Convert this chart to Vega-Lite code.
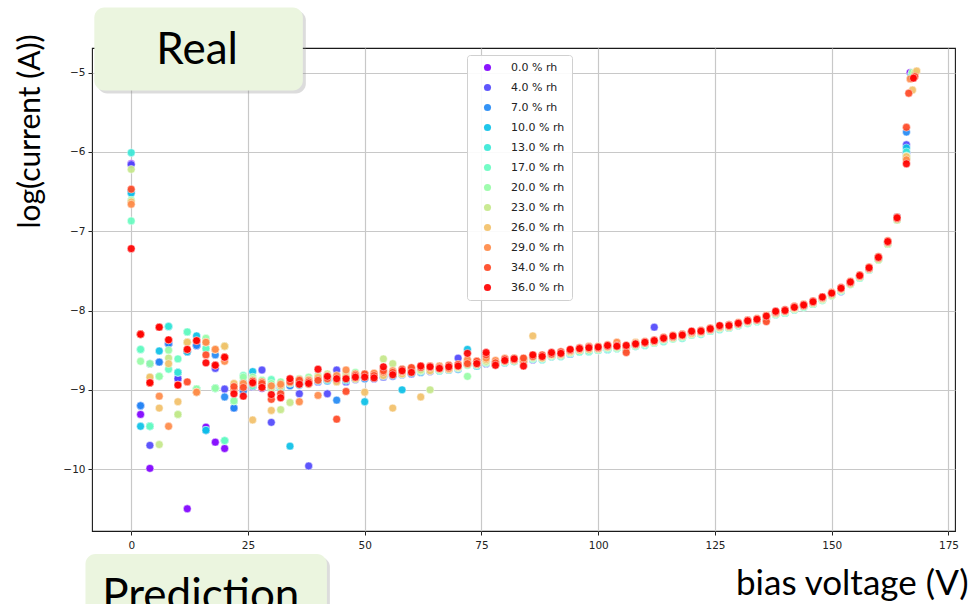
{
"$schema": "https://vega.github.io/schema/vega-lite/v6.json",
"autosize": {"type": "none"},
"width": 863,
"height": 483,
"padding": {"left": 92, "top": 48, "right": 16, "bottom": 73},
"background": "white",
"config": {
 "view": {"stroke": "#1a1a1a", "strokeWidth": 1.1},
 "axis": {"grid": true, "gridColor": "#c8c8c8", "gridWidth": 1.2, "domain": false, "tickColor": "#222", "tickSize": 4, "tickWidth": 1, "labelFont": "DejaVu Sans", "labelFontSize": 10.5, "labelColor": "#222", "titleFont": "Lato", "titleFontSize": 30, "titleFontWeight": "normal", "titleColor": "#000"},
 "legend": {"orient": "none", "legendX": 375, "legendY": 7, "fillColor": "rgba(255,255,255,0.9)", "strokeColor": "#d0d0d0", "cornerRadius": 3, "padding": 7, "symbolType": "circle", "symbolSize": 50, "symbolOffset": 8, "symbolStrokeWidth": 0, "labelFont": "DejaVu Sans", "labelFontSize": 11, "labelColor": "#222", "labelOffset": 18, "rowPadding": 8}
},
"datasets": {
"notes": [
 {"label": "Real", "x0": -7.9, "x1": 36.75, "y0": -4.18, "y1": -5.226, "xc": 14.1, "yb": -4.887},
 {"label": "Prediction", "x0": -9.8, "x1": 41.9, "y0": -11.07, "y1": -12.0, "xc": 14.9, "yb": -11.77}
],
"pts": [
{"v":0,"rh":0,"c":-6.15},{"v":2,"rh":0,"c":-9.31},{"v":4,"rh":0,"c":-9.99},{"v":6,"rh":0,"c":-8.65},{"v":8,"rh":0,"c":-8.42},{"v":10,"rh":0,"c":-8.86},{"v":12,"rh":0,"c":-10.5},{"v":14,"rh":0,"c":-8.44},{"v":16,"rh":0,"c":-9.47},{"v":18,"rh":0,"c":-9.66},{"v":20,"rh":0,"c":-9.74},{"v":22,"rh":0,"c":-9.23},{"v":24,"rh":0,"c":-8.98},
{"v":26,"rh":0,"c":-8.95},{"v":28,"rh":0,"c":-8.98},{"v":30,"rh":0,"c":-8.97},{"v":32,"rh":0,"c":-8.98},{"v":34,"rh":0,"c":-8.94},{"v":36,"rh":0,"c":-8.93},{"v":38,"rh":0,"c":-8.92},{"v":40,"rh":0,"c":-8.89},{"v":42,"rh":0,"c":-8.88},{"v":44,"rh":0,"c":-8.87},{"v":46,"rh":0,"c":-8.87},{"v":48,"rh":0,"c":-8.86},{"v":50,"rh":0,"c":-8.84},{"v":52,"rh":0,"c":-8.84},{"v":54,"rh":0,"c":-8.82},{"v":56,"rh":0,"c":-8.81},{"v":58,"rh":0,"c":-8.79},{"v":60,"rh":0,"c":-8.78},{"v":62,"rh":0,"c":-8.76},{"v":64,"rh":0,"c":-8.75},{"v":66,"rh":0,"c":-8.74},{"v":68,"rh":0,"c":-8.73},{"v":70,"rh":0,"c":-8.72},{"v":72,"rh":0,"c":-8.67},{"v":74,"rh":0,"c":-8.68},{"v":76,"rh":0,"c":-8.65},{"v":78,"rh":0,"c":-8.66},{"v":80,"rh":0,"c":-8.64},{"v":82,"rh":0,"c":-8.62},{"v":84,"rh":0,"c":-8.63},{"v":86,"rh":0,"c":-8.59},{"v":88,"rh":0,"c":-8.59},{"v":90,"rh":0,"c":-8.56},{"v":92,"rh":0,"c":-8.55},{"v":94,"rh":0,"c":-8.52},{"v":96,"rh":0,"c":-8.5},{"v":98,"rh":0,"c":-8.49},{"v":100,"rh":0,"c":-8.48},{"v":102,"rh":0,"c":-8.46},{"v":104,"rh":0,"c":-8.46},{"v":106,"rh":0,"c":-8.46},{"v":108,"rh":0,"c":-8.43},{"v":110,"rh":0,"c":-8.41},{"v":112,"rh":0,"c":-8.39},{"v":114,"rh":0,"c":-8.36},{"v":116,"rh":0,"c":-8.34},{"v":118,"rh":0,"c":-8.32},{"v":120,"rh":0,"c":-8.29},{"v":122,"rh":0,"c":-8.27},{"v":124,"rh":0,"c":-8.24},{"v":126,"rh":0,"c":-8.21},{"v":128,"rh":0,"c":-8.2},{"v":130,"rh":0,"c":-8.17},{"v":132,"rh":0,"c":-8.14},{"v":134,"rh":0,"c":-8.12},{"v":136,"rh":0,"c":-8.08},{"v":138,"rh":0,"c":-8.03},{"v":140,"rh":0,"c":-8.01},{"v":142,"rh":0,"c":-7.97},{"v":144,"rh":0,"c":-7.94},{"v":146,"rh":0,"c":-7.9},{"v":148,"rh":0,"c":-7.85},{"v":150,"rh":0,"c":-7.79},{"v":152,"rh":0,"c":-7.73},{"v":154,"rh":0,"c":-7.65},{"v":156,"rh":0,"c":-7.57},{"v":158,"rh":0,"c":-7.47},{"v":160,"rh":0,"c":-7.34},{"v":162,"rh":0,"c":-7.14},{"v":164,"rh":0,"c":-6.82},{"v":166,"rh":0,"c":-6.01},{"v":166.8,"rh":0,"c":-5.0},
{"v":0,"rh":4,"c":-6.16},{"v":2,"rh":4,"c":-9.2},{"v":4,"rh":4,"c":-9.7},{"v":6,"rh":4,"c":-8.65},{"v":8,"rh":4,"c":-8.42},{"v":10,"rh":4,"c":-8.86},{"v":12,"rh":4,"c":-8.52},{"v":14,"rh":4,"c":-8.44},{"v":16,"rh":4,"c":-9.51},{"v":18,"rh":4,"c":-8.73},{"v":20,"rh":4,"c":-8.99},{"v":22,"rh":4,"c":-9.23},{"v":24,"rh":4,"c":-9.0},
{"v":26,"rh":4,"c":-8.96},{"v":28,"rh":4,"c":-8.75},{"v":30,"rh":4,"c":-9.41},{"v":32,"rh":4,"c":-8.96},{"v":34,"rh":4,"c":-8.94},{"v":36,"rh":4,"c":-9.05},{"v":38,"rh":4,"c":-9.96},{"v":40,"rh":4,"c":-8.9},{"v":42,"rh":4,"c":-9.05},{"v":44,"rh":4,"c":-8.75},{"v":46,"rh":4,"c":-8.9},{"v":48,"rh":4,"c":-8.87},{"v":50,"rh":4,"c":-8.85},{"v":52,"rh":4,"c":-8.86},{"v":54,"rh":4,"c":-8.84},{"v":56,"rh":4,"c":-8.83},{"v":58,"rh":4,"c":-8.8},{"v":60,"rh":4,"c":-8.8},{"v":62,"rh":4,"c":-8.76},{"v":64,"rh":4,"c":-8.77},{"v":66,"rh":4,"c":-8.74},{"v":68,"rh":4,"c":-8.75},{"v":70,"rh":4,"c":-8.6},{"v":72,"rh":4,"c":-8.68},{"v":74,"rh":4,"c":-8.69},{"v":76,"rh":4,"c":-8.67},{"v":78,"rh":4,"c":-8.66},{"v":80,"rh":4,"c":-8.66},{"v":82,"rh":4,"c":-8.62},{"v":84,"rh":4,"c":-8.63},{"v":86,"rh":4,"c":-8.62},{"v":88,"rh":4,"c":-8.59},{"v":90,"rh":4,"c":-8.57},{"v":92,"rh":4,"c":-8.57},{"v":94,"rh":4,"c":-8.53},{"v":96,"rh":4,"c":-8.51},{"v":98,"rh":4,"c":-8.5},{"v":100,"rh":4,"c":-8.49},{"v":102,"rh":4,"c":-8.47},{"v":104,"rh":4,"c":-8.47},{"v":106,"rh":4,"c":-8.46},{"v":108,"rh":4,"c":-8.44},{"v":110,"rh":4,"c":-8.42},{"v":112,"rh":4,"c":-8.21},{"v":114,"rh":4,"c":-8.37},{"v":116,"rh":4,"c":-8.35},{"v":118,"rh":4,"c":-8.33},{"v":120,"rh":4,"c":-8.3},{"v":122,"rh":4,"c":-8.28},{"v":124,"rh":4,"c":-8.25},{"v":126,"rh":4,"c":-8.22},{"v":128,"rh":4,"c":-8.21},{"v":130,"rh":4,"c":-8.17},{"v":132,"rh":4,"c":-8.15},{"v":134,"rh":4,"c":-8.12},{"v":136,"rh":4,"c":-8.09},{"v":138,"rh":4,"c":-8.03},{"v":140,"rh":4,"c":-8.02},{"v":142,"rh":4,"c":-7.97},{"v":144,"rh":4,"c":-7.95},{"v":146,"rh":4,"c":-7.9},{"v":148,"rh":4,"c":-7.86},{"v":150,"rh":4,"c":-7.79},{"v":152,"rh":4,"c":-7.76},{"v":154,"rh":4,"c":-7.66},{"v":156,"rh":4,"c":-7.57},{"v":158,"rh":4,"c":-7.47},{"v":160,"rh":4,"c":-7.34},{"v":162,"rh":4,"c":-7.14},{"v":164,"rh":4,"c":-6.82},{"v":166,"rh":4,"c":-5.91},{"v":167,"rh":4,"c":-5.03},
{"v":0,"rh":7,"c":-6.5},{"v":2,"rh":7,"c":-9.2},{"v":4,"rh":7,"c":-8.67},{"v":6,"rh":7,"c":-8.65},{"v":8,"rh":7,"c":-8.42},{"v":10,"rh":7,"c":-8.78},{"v":12,"rh":7,"c":-8.52},{"v":14,"rh":7,"c":-8.44},{"v":16,"rh":7,"c":-9.51},{"v":18,"rh":7,"c":-8.56},{"v":20,"rh":7,"c":-9.09},{"v":22,"rh":7,"c":-9.23},{"v":24,"rh":7,"c":-9.02},
{"v":26,"rh":7,"c":-8.94},{"v":28,"rh":7,"c":-8.97},{"v":30,"rh":7,"c":-8.95},{"v":32,"rh":7,"c":-8.98},{"v":34,"rh":7,"c":-8.95},{"v":36,"rh":7,"c":-8.9},{"v":38,"rh":7,"c":-8.92},{"v":40,"rh":7,"c":-8.86},{"v":42,"rh":7,"c":-8.89},{"v":44,"rh":7,"c":-9.13},{"v":46,"rh":7,"c":-8.88},{"v":48,"rh":7,"c":-8.86},{"v":50,"rh":7,"c":-8.86},{"v":52,"rh":7,"c":-8.83},{"v":54,"rh":7,"c":-8.83},{"v":56,"rh":7,"c":-8.8},{"v":58,"rh":7,"c":-8.81},{"v":60,"rh":7,"c":-8.77},{"v":62,"rh":7,"c":-8.78},{"v":64,"rh":7,"c":-8.74},{"v":66,"rh":7,"c":-8.76},{"v":68,"rh":7,"c":-8.72},{"v":70,"rh":7,"c":-8.74},{"v":72,"rh":7,"c":-8.67},{"v":74,"rh":7,"c":-8.7},{"v":76,"rh":7,"c":-8.64},{"v":78,"rh":7,"c":-8.68},{"v":80,"rh":7,"c":-8.63},{"v":82,"rh":7,"c":-8.64},{"v":84,"rh":7,"c":-8.62},{"v":86,"rh":7,"c":-8.6},{"v":88,"rh":7,"c":-8.58},{"v":90,"rh":7,"c":-8.58},{"v":92,"rh":7,"c":-8.55},{"v":94,"rh":7,"c":-8.55},{"v":96,"rh":7,"c":-8.5},{"v":98,"rh":7,"c":-8.51},{"v":100,"rh":7,"c":-8.48},{"v":102,"rh":7,"c":-8.49},{"v":104,"rh":7,"c":-8.46},{"v":106,"rh":7,"c":-8.48},{"v":108,"rh":7,"c":-8.43},{"v":110,"rh":7,"c":-8.43},{"v":112,"rh":7,"c":-8.39},{"v":114,"rh":7,"c":-8.38},{"v":116,"rh":7,"c":-8.34},{"v":118,"rh":7,"c":-8.34},{"v":120,"rh":7,"c":-8.29},{"v":122,"rh":7,"c":-8.29},{"v":124,"rh":7,"c":-8.24},{"v":126,"rh":7,"c":-8.23},{"v":128,"rh":7,"c":-8.2},{"v":130,"rh":7,"c":-8.18},{"v":132,"rh":7,"c":-8.14},{"v":134,"rh":7,"c":-8.13},{"v":136,"rh":7,"c":-8.09},{"v":138,"rh":7,"c":-8.04},{"v":140,"rh":7,"c":-8.02},{"v":142,"rh":7,"c":-7.98},{"v":144,"rh":7,"c":-7.95},{"v":146,"rh":7,"c":-7.9},{"v":148,"rh":7,"c":-7.86},{"v":150,"rh":7,"c":-7.8},{"v":152,"rh":7,"c":-7.74},{"v":154,"rh":7,"c":-7.66},{"v":156,"rh":7,"c":-7.58},{"v":158,"rh":7,"c":-7.48},{"v":160,"rh":7,"c":-7.35},{"v":162,"rh":7,"c":-7.15},{"v":164,"rh":7,"c":-6.84},{"v":166,"rh":7,"c":-5.75},{"v":167.2,"rh":7,"c":-5.02},
{"v":0,"rh":10,"c":-6.52},{"v":2,"rh":10,"c":-9.46},{"v":4,"rh":10,"c":-9.46},{"v":6,"rh":10,"c":-8.51},{"v":8,"rh":10,"c":-8.2},{"v":10,"rh":10,"c":-8.78},{"v":12,"rh":10,"c":-8.52},{"v":14,"rh":10,"c":-8.32},{"v":16,"rh":10,"c":-9.51},{"v":18,"rh":10,"c":-8.98},{"v":20,"rh":10,"c":-9.64},{"v":22,"rh":10,"c":-9.14},{"v":24,"rh":10,"c":-8.95},
{"v":26,"rh":10,"c":-8.77},{"v":28,"rh":10,"c":-8.93},{"v":30,"rh":10,"c":-8.99},{"v":32,"rh":10,"c":-8.94},{"v":34,"rh":10,"c":-9.71},{"v":36,"rh":10,"c":-8.94},{"v":38,"rh":10,"c":-8.89},{"v":40,"rh":10,"c":-8.89},{"v":42,"rh":10,"c":-8.88},{"v":44,"rh":10,"c":-8.88},{"v":46,"rh":10,"c":-8.88},{"v":48,"rh":10,"c":-8.86},{"v":50,"rh":10,"c":-9.15},{"v":52,"rh":10,"c":-8.85},{"v":54,"rh":10,"c":-8.82},{"v":56,"rh":10,"c":-8.82},{"v":58,"rh":10,"c":-9.0},{"v":60,"rh":10,"c":-8.79},{"v":62,"rh":10,"c":-8.77},{"v":64,"rh":10,"c":-8.76},{"v":66,"rh":10,"c":-8.75},{"v":68,"rh":10,"c":-8.73},{"v":70,"rh":10,"c":-8.72},{"v":72,"rh":10,"c":-8.49},{"v":74,"rh":10,"c":-8.7},{"v":76,"rh":10,"c":-8.66},{"v":78,"rh":10,"c":-8.67},{"v":80,"rh":10,"c":-8.65},{"v":82,"rh":10,"c":-8.64},{"v":84,"rh":10,"c":-8.63},{"v":86,"rh":10,"c":-8.61},{"v":88,"rh":10,"c":-8.6},{"v":90,"rh":10,"c":-8.58},{"v":92,"rh":10,"c":-8.56},{"v":94,"rh":10,"c":-8.54},{"v":96,"rh":10,"c":-8.52},{"v":98,"rh":10,"c":-8.5},{"v":100,"rh":10,"c":-8.5},{"v":102,"rh":10,"c":-8.48},{"v":104,"rh":10,"c":-8.48},{"v":106,"rh":10,"c":-8.47},{"v":108,"rh":10,"c":-8.45},{"v":110,"rh":10,"c":-8.43},{"v":112,"rh":10,"c":-8.41},{"v":114,"rh":10,"c":-8.38},{"v":116,"rh":10,"c":-8.35},{"v":118,"rh":10,"c":-8.34},{"v":120,"rh":10,"c":-8.31},{"v":122,"rh":10,"c":-8.29},{"v":124,"rh":10,"c":-8.26},{"v":126,"rh":10,"c":-8.23},{"v":128,"rh":10,"c":-8.22},{"v":130,"rh":10,"c":-8.19},{"v":132,"rh":10,"c":-8.15},{"v":134,"rh":10,"c":-8.14},{"v":136,"rh":10,"c":-8.1},{"v":138,"rh":10,"c":-8.05},{"v":140,"rh":10,"c":-8.03},{"v":142,"rh":10,"c":-7.99},{"v":144,"rh":10,"c":-7.95},{"v":146,"rh":10,"c":-7.92},{"v":148,"rh":10,"c":-7.86},{"v":150,"rh":10,"c":-7.81},{"v":152,"rh":10,"c":-7.75},{"v":154,"rh":10,"c":-7.67},{"v":156,"rh":10,"c":-7.58},{"v":158,"rh":10,"c":-7.49},{"v":160,"rh":10,"c":-7.35},{"v":162,"rh":10,"c":-7.16},{"v":164,"rh":10,"c":-6.85},{"v":166,"rh":10,"c":-5.95},{"v":167,"rh":10,"c":-5.05},
{"v":0,"rh":13,"c":-6.01},{"v":2,"rh":13,"c":-8.49},{"v":4,"rh":13,"c":-9.46},{"v":6,"rh":13,"c":-8.83},{"v":8,"rh":13,"c":-8.2},{"v":10,"rh":13,"c":-8.78},{"v":12,"rh":13,"c":-8.27},{"v":14,"rh":13,"c":-8.99},{"v":16,"rh":13,"c":-8.48},{"v":18,"rh":13,"c":-8.98},{"v":20,"rh":13,"c":-9.64},{"v":22,"rh":13,"c":-9.14},{"v":24,"rh":13,"c":-8.9},
{"v":26,"rh":13,"c":-8.9},{"v":28,"rh":13,"c":-8.94},{"v":30,"rh":13,"c":-8.96},{"v":32,"rh":13,"c":-8.99},{"v":34,"rh":13,"c":-8.91},{"v":36,"rh":13,"c":-8.93},{"v":38,"rh":13,"c":-8.91},{"v":40,"rh":13,"c":-8.88},{"v":42,"rh":13,"c":-8.84},{"v":44,"rh":13,"c":-8.87},{"v":46,"rh":13,"c":-8.85},{"v":48,"rh":13,"c":-8.85},{"v":50,"rh":13,"c":-8.81},{"v":52,"rh":13,"c":-8.84},{"v":54,"rh":13,"c":-8.79},{"v":56,"rh":13,"c":-8.81},{"v":58,"rh":13,"c":-8.77},{"v":60,"rh":13,"c":-8.78},{"v":62,"rh":13,"c":-8.76},{"v":64,"rh":13,"c":-8.74},{"v":66,"rh":13,"c":-8.76},{"v":68,"rh":13,"c":-8.75},{"v":70,"rh":13,"c":-8.73},{"v":72,"rh":13,"c":-8.66},{"v":74,"rh":13,"c":-8.69},{"v":76,"rh":13,"c":-8.64},{"v":78,"rh":13,"c":-8.67},{"v":80,"rh":13,"c":-8.66},{"v":82,"rh":13,"c":-8.63},{"v":84,"rh":13,"c":-8.65},{"v":86,"rh":13,"c":-8.6},{"v":88,"rh":13,"c":-8.62},{"v":90,"rh":13,"c":-8.57},{"v":92,"rh":13,"c":-8.58},{"v":94,"rh":13,"c":-8.53},{"v":96,"rh":13,"c":-8.51},{"v":98,"rh":13,"c":-8.52},{"v":100,"rh":13,"c":-8.49},{"v":102,"rh":13,"c":-8.49},{"v":104,"rh":13,"c":-8.47},{"v":106,"rh":13,"c":-8.49},{"v":108,"rh":13,"c":-8.44},{"v":110,"rh":13,"c":-8.44},{"v":112,"rh":13,"c":-8.4},{"v":114,"rh":13,"c":-8.39},{"v":116,"rh":13,"c":-8.35},{"v":118,"rh":13,"c":-8.35},{"v":120,"rh":13,"c":-8.3},{"v":122,"rh":13,"c":-8.3},{"v":124,"rh":13,"c":-8.25},{"v":126,"rh":13,"c":-8.24},{"v":128,"rh":13,"c":-8.21},{"v":130,"rh":13,"c":-8.18},{"v":132,"rh":13,"c":-8.16},{"v":134,"rh":13,"c":-8.13},{"v":136,"rh":13,"c":-8.1},{"v":138,"rh":13,"c":-8.04},{"v":140,"rh":13,"c":-8.03},{"v":142,"rh":13,"c":-7.98},{"v":144,"rh":13,"c":-7.96},{"v":146,"rh":13,"c":-7.91},{"v":148,"rh":13,"c":-7.87},{"v":150,"rh":13,"c":-7.8},{"v":152,"rh":13,"c":-7.75},{"v":154,"rh":13,"c":-7.66},{"v":156,"rh":13,"c":-7.59},{"v":158,"rh":13,"c":-7.48},{"v":160,"rh":13,"c":-7.36},{"v":162,"rh":13,"c":-7.15},{"v":164,"rh":13,"c":-6.86},{"v":166,"rh":13,"c":-6.0},{"v":167.4,"rh":13,"c":-5.06},
{"v":0,"rh":17,"c":-6.87},{"v":2,"rh":17,"c":-8.49},{"v":4,"rh":17,"c":-9.46},{"v":6,"rh":17,"c":-8.83},{"v":8,"rh":17,"c":-8.74},{"v":10,"rh":17,"c":-8.61},{"v":12,"rh":17,"c":-8.27},{"v":14,"rh":17,"c":-8.99},{"v":16,"rh":17,"c":-8.48},{"v":18,"rh":17,"c":-8.98},{"v":20,"rh":17,"c":-9.64},{"v":22,"rh":17,"c":-9.14},{"v":24,"rh":17,"c":-8.82},
{"v":26,"rh":17,"c":-8.95},{"v":28,"rh":17,"c":-8.93},{"v":30,"rh":17,"c":-8.87},{"v":32,"rh":17,"c":-8.96},{"v":34,"rh":17,"c":-8.92},{"v":36,"rh":17,"c":-8.91},{"v":38,"rh":17,"c":-8.88},{"v":40,"rh":17,"c":-8.86},{"v":42,"rh":17,"c":-8.87},{"v":44,"rh":17,"c":-8.85},{"v":46,"rh":17,"c":-8.87},{"v":48,"rh":17,"c":-8.83},{"v":50,"rh":17,"c":-8.84},{"v":52,"rh":17,"c":-8.82},{"v":54,"rh":17,"c":-8.81},{"v":56,"rh":17,"c":-8.79},{"v":58,"rh":17,"c":-8.8},{"v":60,"rh":17,"c":-8.77},{"v":62,"rh":17,"c":-8.75},{"v":64,"rh":17,"c":-8.75},{"v":66,"rh":17,"c":-8.74},{"v":68,"rh":17,"c":-8.74},{"v":70,"rh":17,"c":-8.71},{"v":72,"rh":17,"c":-8.69},{"v":74,"rh":17,"c":-8.68},{"v":76,"rh":17,"c":-8.66},{"v":78,"rh":17,"c":-8.68},{"v":80,"rh":17,"c":-8.65},{"v":82,"rh":17,"c":-8.64},{"v":84,"rh":17,"c":-8.64},{"v":86,"rh":17,"c":-8.61},{"v":88,"rh":17,"c":-8.61},{"v":90,"rh":17,"c":-8.58},{"v":92,"rh":17,"c":-8.57},{"v":94,"rh":17,"c":-8.54},{"v":96,"rh":17,"c":-8.52},{"v":98,"rh":17,"c":-8.51},{"v":100,"rh":17,"c":-8.5},{"v":102,"rh":17,"c":-8.48},{"v":104,"rh":17,"c":-8.48},{"v":106,"rh":17,"c":-8.48},{"v":108,"rh":17,"c":-8.45},{"v":110,"rh":17,"c":-8.43},{"v":112,"rh":17,"c":-8.41},{"v":114,"rh":17,"c":-8.38},{"v":116,"rh":17,"c":-8.36},{"v":118,"rh":17,"c":-8.34},{"v":120,"rh":17,"c":-8.31},{"v":122,"rh":17,"c":-8.29},{"v":124,"rh":17,"c":-8.26},{"v":126,"rh":17,"c":-8.23},{"v":128,"rh":17,"c":-8.22},{"v":130,"rh":17,"c":-8.19},{"v":132,"rh":17,"c":-8.16},{"v":134,"rh":17,"c":-8.14},{"v":136,"rh":17,"c":-8.1},{"v":138,"rh":17,"c":-8.05},{"v":140,"rh":17,"c":-8.03},{"v":142,"rh":17,"c":-7.99},{"v":144,"rh":17,"c":-7.96},{"v":146,"rh":17,"c":-7.92},{"v":148,"rh":17,"c":-7.87},{"v":150,"rh":17,"c":-7.81},{"v":152,"rh":17,"c":-7.75},{"v":154,"rh":17,"c":-7.67},{"v":156,"rh":17,"c":-7.59},{"v":158,"rh":17,"c":-7.49},{"v":160,"rh":17,"c":-7.36},{"v":162,"rh":17,"c":-7.16},{"v":164,"rh":17,"c":-6.86},{"v":166,"rh":17,"c":-6.05},{"v":167.6,"rh":17,"c":-5.03},
{"v":0,"rh":20,"c":-6.61},{"v":2,"rh":20,"c":-8.64},{"v":4,"rh":20,"c":-8.67},{"v":6,"rh":20,"c":-8.83},{"v":8,"rh":20,"c":-8.5},{"v":10,"rh":20,"c":-9.31},{"v":12,"rh":20,"c":-8.4},{"v":14,"rh":20,"c":-8.99},{"v":16,"rh":20,"c":-8.35},{"v":18,"rh":20,"c":-8.98},{"v":20,"rh":20,"c":-8.45},{"v":22,"rh":20,"c":-9.14},{"v":24,"rh":20,"c":-8.84},
{"v":26,"rh":20,"c":-8.84},{"v":28,"rh":20,"c":-8.88},{"v":30,"rh":20,"c":-8.92},{"v":32,"rh":20,"c":-8.9},{"v":34,"rh":20,"c":-8.89},{"v":36,"rh":20,"c":-8.86},{"v":38,"rh":20,"c":-8.84},{"v":40,"rh":20,"c":-8.82},{"v":42,"rh":20,"c":-8.85},{"v":44,"rh":20,"c":-8.83},{"v":46,"rh":20,"c":-8.8},{"v":48,"rh":20,"c":-8.78},{"v":50,"rh":20,"c":-8.82},{"v":52,"rh":20,"c":-8.81},{"v":54,"rh":20,"c":-8.75},{"v":56,"rh":20,"c":-8.77},{"v":58,"rh":20,"c":-8.74},{"v":60,"rh":20,"c":-8.73},{"v":62,"rh":20,"c":-8.76},{"v":64,"rh":20,"c":-8.74},{"v":66,"rh":20,"c":-8.75},{"v":68,"rh":20,"c":-8.7},{"v":70,"rh":20,"c":-8.72},{"v":72,"rh":20,"c":-8.83},{"v":74,"rh":20,"c":-8.67},{"v":76,"rh":20,"c":-8.65},{"v":78,"rh":20,"c":-8.66},{"v":80,"rh":20,"c":-8.64},{"v":82,"rh":20,"c":-8.62},{"v":84,"rh":20,"c":-8.61},{"v":86,"rh":20,"c":-8.6},{"v":88,"rh":20,"c":-8.6},{"v":90,"rh":20,"c":-8.57},{"v":92,"rh":20,"c":-8.55},{"v":94,"rh":20,"c":-8.53},{"v":96,"rh":20,"c":-8.5},{"v":98,"rh":20,"c":-8.49},{"v":100,"rh":20,"c":-8.49},{"v":102,"rh":20,"c":-8.47},{"v":104,"rh":20,"c":-8.47},{"v":106,"rh":20,"c":-8.46},{"v":108,"rh":20,"c":-8.44},{"v":110,"rh":20,"c":-8.42},{"v":112,"rh":20,"c":-8.4},{"v":114,"rh":20,"c":-8.37},{"v":116,"rh":20,"c":-8.35},{"v":118,"rh":20,"c":-8.33},{"v":120,"rh":20,"c":-8.3},{"v":122,"rh":20,"c":-8.28},{"v":124,"rh":20,"c":-8.25},{"v":126,"rh":20,"c":-8.22},{"v":128,"rh":20,"c":-8.21},{"v":130,"rh":20,"c":-8.18},{"v":132,"rh":20,"c":-8.15},{"v":134,"rh":20,"c":-8.13},{"v":136,"rh":20,"c":-8.09},{"v":138,"rh":20,"c":-8.04},{"v":140,"rh":20,"c":-8.02},{"v":142,"rh":20,"c":-7.98},{"v":144,"rh":20,"c":-7.95},{"v":146,"rh":20,"c":-7.91},{"v":148,"rh":20,"c":-7.86},{"v":150,"rh":20,"c":-7.8},{"v":152,"rh":20,"c":-7.74},{"v":154,"rh":20,"c":-7.66},{"v":156,"rh":20,"c":-7.58},{"v":158,"rh":20,"c":-7.48},{"v":160,"rh":20,"c":-7.35},{"v":162,"rh":20,"c":-7.15},{"v":164,"rh":20,"c":-6.85},{"v":166,"rh":20,"c":-6.08},{"v":167.2,"rh":20,"c":-5.0},
{"v":0,"rh":23,"c":-6.22},{"v":2,"rh":23,"c":-8.3},{"v":4,"rh":23,"c":-8.84},{"v":6,"rh":23,"c":-9.69},{"v":8,"rh":23,"c":-8.6},{"v":10,"rh":23,"c":-9.31},{"v":12,"rh":23,"c":-8.4},{"v":14,"rh":23,"c":-9.03},{"v":16,"rh":23,"c":-8.4},{"v":18,"rh":23,"c":-8.49},{"v":20,"rh":23,"c":-8.45},{"v":22,"rh":23,"c":-8.98},{"v":24,"rh":23,"c":-8.93},
{"v":26,"rh":23,"c":-8.87},{"v":28,"rh":23,"c":-8.92},{"v":30,"rh":23,"c":-8.98},{"v":32,"rh":23,"c":-9.25},{"v":34,"rh":23,"c":-9.16},{"v":36,"rh":23,"c":-8.9},{"v":38,"rh":23,"c":-8.87},{"v":40,"rh":23,"c":-8.85},{"v":42,"rh":23,"c":-8.8},{"v":44,"rh":23,"c":-8.84},{"v":46,"rh":23,"c":-8.82},{"v":48,"rh":23,"c":-8.81},{"v":50,"rh":23,"c":-8.8},{"v":52,"rh":23,"c":-8.84},{"v":54,"rh":23,"c":-8.61},{"v":56,"rh":23,"c":-8.67},{"v":58,"rh":23,"c":-8.79},{"v":60,"rh":23,"c":-8.77},{"v":62,"rh":23,"c":-8.75},{"v":64,"rh":23,"c":-9.0},{"v":66,"rh":23,"c":-8.74},{"v":68,"rh":23,"c":-8.73},{"v":70,"rh":23,"c":-8.72},{"v":72,"rh":23,"c":-8.68},{"v":74,"rh":23,"c":-8.65},{"v":76,"rh":23,"c":-8.64},{"v":78,"rh":23,"c":-8.67},{"v":80,"rh":23,"c":-8.63},{"v":82,"rh":23,"c":-8.6},{"v":84,"rh":23,"c":-8.63},{"v":86,"rh":23,"c":-8.59},{"v":88,"rh":23,"c":-8.59},{"v":90,"rh":23,"c":-8.56},{"v":92,"rh":23,"c":-8.53},{"v":94,"rh":23,"c":-8.52},{"v":96,"rh":23,"c":-8.49},{"v":98,"rh":23,"c":-8.47},{"v":100,"rh":23,"c":-8.48},{"v":102,"rh":23,"c":-8.46},{"v":104,"rh":23,"c":-8.46},{"v":106,"rh":23,"c":-8.47},{"v":108,"rh":23,"c":-8.43},{"v":110,"rh":23,"c":-8.41},{"v":112,"rh":23,"c":-8.4},{"v":114,"rh":23,"c":-8.36},{"v":116,"rh":23,"c":-8.33},{"v":118,"rh":23,"c":-8.32},{"v":120,"rh":23,"c":-8.29},{"v":122,"rh":23,"c":-8.28},{"v":124,"rh":23,"c":-8.24},{"v":126,"rh":23,"c":-8.22},{"v":128,"rh":23,"c":-8.21},{"v":130,"rh":23,"c":-8.17},{"v":132,"rh":23,"c":-8.14},{"v":134,"rh":23,"c":-8.12},{"v":136,"rh":23,"c":-8.08},{"v":138,"rh":23,"c":-8.04},{"v":140,"rh":23,"c":-8.01},{"v":142,"rh":23,"c":-7.98},{"v":144,"rh":23,"c":-7.94},{"v":146,"rh":23,"c":-7.91},{"v":148,"rh":23,"c":-7.86},{"v":150,"rh":23,"c":-7.81},{"v":152,"rh":23,"c":-7.74},{"v":154,"rh":23,"c":-7.67},{"v":156,"rh":23,"c":-7.57},{"v":158,"rh":23,"c":-7.48},{"v":160,"rh":23,"c":-7.36},{"v":162,"rh":23,"c":-7.16},{"v":164,"rh":23,"c":-6.86},{"v":166,"rh":23,"c":-6.06},{"v":167.8,"rh":23,"c":-5.0},
{"v":0,"rh":26,"c":-6.63},{"v":2,"rh":26,"c":-8.3},{"v":4,"rh":26,"c":-8.84},{"v":6,"rh":26,"c":-9.23},{"v":8,"rh":26,"c":-8.67},{"v":10,"rh":26,"c":-9.15},{"v":12,"rh":26,"c":-8.4},{"v":14,"rh":26,"c":-9.03},{"v":16,"rh":26,"c":-8.4},{"v":18,"rh":26,"c":-8.49},{"v":20,"rh":26,"c":-8.45},{"v":22,"rh":26,"c":-8.92},{"v":24,"rh":26,"c":-8.95},
{"v":26,"rh":26,"c":-9.38},{"v":28,"rh":26,"c":-8.96},{"v":30,"rh":26,"c":-9.26},{"v":32,"rh":26,"c":-8.95},{"v":34,"rh":26,"c":-8.91},{"v":36,"rh":26,"c":-8.87},{"v":38,"rh":26,"c":-8.93},{"v":40,"rh":26,"c":-8.84},{"v":42,"rh":26,"c":-8.82},{"v":44,"rh":26,"c":-8.9},{"v":46,"rh":26,"c":-8.84},{"v":48,"rh":26,"c":-8.86},{"v":50,"rh":26,"c":-9.03},{"v":52,"rh":26,"c":-8.8},{"v":54,"rh":26,"c":-8.82},{"v":56,"rh":26,"c":-9.23},{"v":58,"rh":26,"c":-8.8},{"v":60,"rh":26,"c":-8.75},{"v":62,"rh":26,"c":-9.09},{"v":64,"rh":26,"c":-8.76},{"v":66,"rh":26,"c":-8.71},{"v":68,"rh":26,"c":-8.74},{"v":70,"rh":26,"c":-8.71},{"v":72,"rh":26,"c":-8.65},{"v":74,"rh":26,"c":-8.68},{"v":76,"rh":26,"c":-8.62},{"v":78,"rh":26,"c":-8.66},{"v":80,"rh":26,"c":-8.64},{"v":82,"rh":26,"c":-8.63},{"v":84,"rh":26,"c":-8.61},{"v":86,"rh":26,"c":-8.32},{"v":88,"rh":26,"c":-8.6},{"v":90,"rh":26,"c":-8.56},{"v":92,"rh":26,"c":-8.56},{"v":94,"rh":26,"c":-8.52},{"v":96,"rh":26,"c":-8.5},{"v":98,"rh":26,"c":-8.49},{"v":100,"rh":26,"c":-8.45},{"v":102,"rh":26,"c":-8.46},{"v":104,"rh":26,"c":-8.43},{"v":106,"rh":26,"c":-8.44},{"v":108,"rh":26,"c":-8.4},{"v":110,"rh":26,"c":-8.41},{"v":112,"rh":26,"c":-8.39},{"v":114,"rh":26,"c":-8.34},{"v":116,"rh":26,"c":-8.34},{"v":118,"rh":26,"c":-8.3},{"v":120,"rh":26,"c":-8.29},{"v":122,"rh":26,"c":-8.25},{"v":124,"rh":26,"c":-8.24},{"v":126,"rh":26,"c":-8.21},{"v":128,"rh":26,"c":-8.18},{"v":130,"rh":26,"c":-8.17},{"v":132,"rh":26,"c":-8.13},{"v":134,"rh":26,"c":-8.12},{"v":136,"rh":26,"c":-8.08},{"v":138,"rh":26,"c":-8.02},{"v":140,"rh":26,"c":-8.0},{"v":142,"rh":26,"c":-7.97},{"v":144,"rh":26,"c":-7.92},{"v":146,"rh":26,"c":-7.89},{"v":148,"rh":26,"c":-7.85},{"v":150,"rh":26,"c":-7.78},{"v":152,"rh":26,"c":-7.72},{"v":154,"rh":26,"c":-7.65},{"v":156,"rh":26,"c":-7.55},{"v":158,"rh":26,"c":-7.47},{"v":160,"rh":26,"c":-7.32},{"v":162,"rh":26,"c":-7.14},{"v":164,"rh":26,"c":-6.84},{"v":166,"rh":26,"c":-6.06},{"v":167.3,"rh":26,"c":-5.22},{"v":168.2,"rh":26,"c":-4.98},
{"v":0,"rh":29,"c":-6.66},{"v":2,"rh":29,"c":-8.3},{"v":4,"rh":29,"c":-8.91},{"v":6,"rh":29,"c":-9.08},{"v":8,"rh":29,"c":-9.46},{"v":10,"rh":29,"c":-8.94},{"v":12,"rh":29,"c":-8.49},{"v":14,"rh":29,"c":-9.03},{"v":16,"rh":29,"c":-8.4},{"v":18,"rh":29,"c":-8.49},{"v":20,"rh":29,"c":-8.64},{"v":22,"rh":29,"c":-9.0},{"v":24,"rh":29,"c":-8.92},
{"v":26,"rh":29,"c":-8.92},{"v":28,"rh":29,"c":-8.9},{"v":30,"rh":29,"c":-8.95},{"v":32,"rh":29,"c":-8.93},{"v":34,"rh":29,"c":-8.88},{"v":36,"rh":29,"c":-9.15},{"v":38,"rh":29,"c":-8.88},{"v":40,"rh":29,"c":-9.07},{"v":42,"rh":29,"c":-8.84},{"v":44,"rh":29,"c":-8.82},{"v":46,"rh":29,"c":-8.75},{"v":48,"rh":29,"c":-8.8},{"v":50,"rh":29,"c":-8.82},{"v":52,"rh":29,"c":-8.79},{"v":54,"rh":29,"c":-8.78},{"v":56,"rh":29,"c":-8.76},{"v":58,"rh":29,"c":-8.77},{"v":60,"rh":29,"c":-8.74},{"v":62,"rh":29,"c":-8.71},{"v":64,"rh":29,"c":-8.72},{"v":66,"rh":29,"c":-8.7},{"v":68,"rh":29,"c":-8.73},{"v":70,"rh":29,"c":-8.68},{"v":72,"rh":29,"c":-8.62},{"v":74,"rh":29,"c":-8.64},{"v":76,"rh":29,"c":-8.6},{"v":78,"rh":29,"c":-8.63},{"v":80,"rh":29,"c":-8.6},{"v":82,"rh":29,"c":-8.62},{"v":84,"rh":29,"c":-8.64},{"v":86,"rh":29,"c":-8.56},{"v":88,"rh":29,"c":-8.57},{"v":90,"rh":29,"c":-8.54},{"v":92,"rh":29,"c":-8.55},{"v":94,"rh":29,"c":-8.5},{"v":96,"rh":29,"c":-8.48},{"v":98,"rh":29,"c":-8.45},{"v":100,"rh":29,"c":-8.48},{"v":102,"rh":29,"c":-8.43},{"v":104,"rh":29,"c":-8.4},{"v":106,"rh":29,"c":-8.46},{"v":108,"rh":29,"c":-8.41},{"v":110,"rh":29,"c":-8.39},{"v":112,"rh":29,"c":-8.38},{"v":114,"rh":29,"c":-8.36},{"v":116,"rh":29,"c":-8.31},{"v":118,"rh":29,"c":-8.32},{"v":120,"rh":29,"c":-8.27},{"v":122,"rh":29,"c":-8.27},{"v":124,"rh":29,"c":-8.22},{"v":126,"rh":29,"c":-8.19},{"v":128,"rh":29,"c":-8.2},{"v":130,"rh":29,"c":-8.15},{"v":132,"rh":29,"c":-8.14},{"v":134,"rh":29,"c":-8.1},{"v":136,"rh":29,"c":-8.06},{"v":138,"rh":29,"c":-8.03},{"v":140,"rh":29,"c":-8.01},{"v":142,"rh":29,"c":-7.95},{"v":144,"rh":29,"c":-7.92},{"v":146,"rh":29,"c":-7.9},{"v":148,"rh":29,"c":-7.83},{"v":150,"rh":29,"c":-7.77},{"v":152,"rh":29,"c":-7.73},{"v":154,"rh":29,"c":-7.63},{"v":156,"rh":29,"c":-7.57},{"v":158,"rh":29,"c":-7.45},{"v":160,"rh":29,"c":-7.34},{"v":162,"rh":29,"c":-7.12},{"v":164,"rh":29,"c":-6.82},{"v":166,"rh":29,"c":-6.1},{"v":166.8,"rh":29,"c":-5.08},
{"v":0,"rh":34,"c":-6.47},{"v":2,"rh":34,"c":-8.3},{"v":4,"rh":34,"c":-8.91},{"v":6,"rh":34,"c":-8.21},{"v":8,"rh":34,"c":-8.37},{"v":10,"rh":34,"c":-8.94},{"v":12,"rh":34,"c":-8.9},{"v":14,"rh":34,"c":-8.38},{"v":16,"rh":34,"c":-8.56},{"v":18,"rh":34,"c":-8.69},{"v":20,"rh":34,"c":-8.59},{"v":22,"rh":34,"c":-8.96},{"v":24,"rh":34,"c":-8.97},
{"v":26,"rh":34,"c":-8.89},{"v":28,"rh":34,"c":-8.92},{"v":30,"rh":34,"c":-9.12},{"v":32,"rh":34,"c":-9.05},{"v":34,"rh":34,"c":-8.9},{"v":36,"rh":34,"c":-8.88},{"v":38,"rh":34,"c":-8.9},{"v":40,"rh":34,"c":-8.88},{"v":42,"rh":34,"c":-8.86},{"v":44,"rh":34,"c":-9.37},{"v":46,"rh":34,"c":-9.02},{"v":48,"rh":34,"c":-8.82},{"v":50,"rh":34,"c":-8.8},{"v":52,"rh":34,"c":-8.82},{"v":54,"rh":34,"c":-8.76},{"v":56,"rh":34,"c":-8.78},{"v":58,"rh":34,"c":-8.74},{"v":60,"rh":34,"c":-8.72},{"v":62,"rh":34,"c":-8.72},{"v":64,"rh":34,"c":-8.7},{"v":66,"rh":34,"c":-8.72},{"v":68,"rh":34,"c":-8.69},{"v":70,"rh":34,"c":-8.68},{"v":72,"rh":34,"c":-8.67},{"v":74,"rh":34,"c":-8.64},{"v":76,"rh":34,"c":-8.56},{"v":78,"rh":34,"c":-8.66},{"v":80,"rh":34,"c":-8.61},{"v":82,"rh":34,"c":-8.6},{"v":84,"rh":34,"c":-8.6},{"v":86,"rh":34,"c":-8.58},{"v":88,"rh":34,"c":-8.56},{"v":90,"rh":34,"c":-8.55},{"v":92,"rh":34,"c":-8.52},{"v":94,"rh":34,"c":-8.5},{"v":96,"rh":34,"c":-8.47},{"v":98,"rh":34,"c":-8.46},{"v":100,"rh":34,"c":-8.47},{"v":102,"rh":34,"c":-8.45},{"v":104,"rh":34,"c":-8.44},{"v":106,"rh":34,"c":-8.53},{"v":108,"rh":34,"c":-8.43},{"v":110,"rh":34,"c":-8.41},{"v":112,"rh":34,"c":-8.37},{"v":114,"rh":34,"c":-8.34},{"v":116,"rh":34,"c":-8.33},{"v":118,"rh":34,"c":-8.3},{"v":120,"rh":34,"c":-8.27},{"v":122,"rh":34,"c":-8.25},{"v":124,"rh":34,"c":-8.24},{"v":126,"rh":34,"c":-8.2},{"v":128,"rh":34,"c":-8.18},{"v":130,"rh":34,"c":-8.17},{"v":132,"rh":34,"c":-8.12},{"v":134,"rh":34,"c":-8.12},{"v":136,"rh":34,"c":-8.14},{"v":138,"rh":34,"c":-8.02},{"v":140,"rh":34,"c":-7.99},{"v":142,"rh":34,"c":-7.95},{"v":144,"rh":34,"c":-7.94},{"v":146,"rh":34,"c":-7.88},{"v":148,"rh":34,"c":-7.84},{"v":150,"rh":34,"c":-7.79},{"v":152,"rh":34,"c":-7.71},{"v":154,"rh":34,"c":-7.65},{"v":156,"rh":34,"c":-7.55},{"v":158,"rh":34,"c":-7.47},{"v":160,"rh":34,"c":-7.32},{"v":162,"rh":34,"c":-7.14},{"v":164,"rh":34,"c":-6.84},{"v":166,"rh":34,"c":-5.69},{"v":166.5,"rh":34,"c":-5.26},{"v":167.8,"rh":34,"c":-5.05},
{"v":0,"rh":36,"c":-7.22},{"v":2,"rh":36,"c":-8.3},{"v":4,"rh":36,"c":-8.91},{"v":6,"rh":36,"c":-8.21},{"v":8,"rh":36,"c":-8.37},{"v":10,"rh":36,"c":-8.94},{"v":12,"rh":36,"c":-8.49},{"v":14,"rh":36,"c":-8.38},{"v":16,"rh":36,"c":-8.66},{"v":18,"rh":36,"c":-8.69},{"v":20,"rh":36,"c":-8.59},{"v":22,"rh":36,"c":-9.05},{"v":24,"rh":36,"c":-9.08},
{"v":26,"rh":36,"c":-8.91},{"v":28,"rh":36,"c":-8.97},{"v":30,"rh":36,"c":-9.06},{"v":32,"rh":36,"c":-9.1},{"v":34,"rh":36,"c":-8.86},{"v":36,"rh":36,"c":-8.93},{"v":38,"rh":36,"c":-8.92},{"v":40,"rh":36,"c":-8.74},{"v":42,"rh":36,"c":-8.83},{"v":44,"rh":36,"c":-8.86},{"v":46,"rh":36,"c":-8.86},{"v":48,"rh":36,"c":-8.84},{"v":50,"rh":36,"c":-8.84},{"v":52,"rh":36,"c":-8.85},{"v":54,"rh":36,"c":-8.71},{"v":56,"rh":36,"c":-8.81},{"v":58,"rh":36,"c":-8.76},{"v":60,"rh":36,"c":-8.78},{"v":62,"rh":36,"c":-8.7},{"v":64,"rh":36,"c":-8.71},{"v":66,"rh":36,"c":-8.73},{"v":68,"rh":36,"c":-8.71},{"v":70,"rh":36,"c":-8.7},{"v":72,"rh":36,"c":-8.54},{"v":74,"rh":36,"c":-8.67},{"v":76,"rh":36,"c":-8.53},{"v":78,"rh":36,"c":-8.69},{"v":80,"rh":36,"c":-8.63},{"v":82,"rh":36,"c":-8.61},{"v":84,"rh":36,"c":-8.7},{"v":86,"rh":36,"c":-8.56},{"v":88,"rh":36,"c":-8.58},{"v":90,"rh":36,"c":-8.53},{"v":92,"rh":36,"c":-8.54},{"v":94,"rh":36,"c":-8.49},{"v":96,"rh":36,"c":-8.48},{"v":98,"rh":36,"c":-8.47},{"v":100,"rh":36,"c":-8.46},{"v":102,"rh":36,"c":-8.44},{"v":104,"rh":36,"c":-8.45},{"v":106,"rh":36,"c":-8.44},{"v":108,"rh":36,"c":-8.42},{"v":110,"rh":36,"c":-8.4},{"v":112,"rh":36,"c":-8.38},{"v":114,"rh":36,"c":-8.35},{"v":116,"rh":36,"c":-8.32},{"v":118,"rh":36,"c":-8.31},{"v":120,"rh":36,"c":-8.26},{"v":122,"rh":36,"c":-8.26},{"v":124,"rh":36,"c":-8.23},{"v":126,"rh":36,"c":-8.19},{"v":128,"rh":36,"c":-8.19},{"v":130,"rh":36,"c":-8.16},{"v":132,"rh":36,"c":-8.13},{"v":134,"rh":36,"c":-8.11},{"v":136,"rh":36,"c":-8.07},{"v":138,"rh":36,"c":-8.01},{"v":140,"rh":36,"c":-8.0},{"v":142,"rh":36,"c":-7.96},{"v":144,"rh":36,"c":-7.93},{"v":146,"rh":36,"c":-7.89},{"v":148,"rh":36,"c":-7.83},{"v":150,"rh":36,"c":-7.78},{"v":152,"rh":36,"c":-7.72},{"v":154,"rh":36,"c":-7.64},{"v":156,"rh":36,"c":-7.56},{"v":158,"rh":36,"c":-7.46},{"v":160,"rh":36,"c":-7.33},{"v":162,"rh":36,"c":-7.13},{"v":164,"rh":36,"c":-6.83},{"v":166,"rh":36,"c":-6.15},{"v":167.5,"rh":36,"c":-5.07}
]
},
"layer": [
 {
  "data": {"name": "pts"},
  "mark": {"type": "point", "filled": true, "size": 62, "opacity": 0.92, "stroke": "white", "strokeWidth": 0.5},
  "encoding": {
   "x": {"field": "v", "type": "quantitative", "title": "bias voltage (V)", "scale": {"domain": [-8.4, 176.4], "nice": false, "zero": false},
         "axis": {"values": [0, 25, 50, 75, 100, 125, 150, 175], "format": "d", "labelPadding": 5, "titleFontSize": 35, "titleX": 876, "titleY": 52, "titleAlign": "right", "titleBaseline": "middle"}},
   "y": {"field": "c", "type": "quantitative", "title": "log(current (A))", "scale": {"domain": [-10.78, -4.69], "nice": false, "zero": false},
         "axis": {"values": [-10, -9, -8, -7, -6, -5], "format": "d", "labelPadding": 3, "titleX": -62, "titleY": 83, "titleAngle": -90, "titleAlign": "center", "titleBaseline": "middle"}},
   "color": {"field": "rh", "type": "nominal",
             "scale": {"domain": [0, 4, 7, 10, 13, 17, 20, 23, 26, 29, 34, 36], "range": ["#8000ff", "#5148fc", "#238af5", "#0cc1e8", "#3ae8d7", "#68fcc1", "#97fca7", "#c5e88a", "#f3c16a", "#ff8a48", "#ff4824", "#ff0000"]},
             "legend": {"title": null, "labelExpr": "format(datum.value, '.1f') + ' % rh'"}}
  }
 },
 {
  "data": {"name": "notes"},
  "mark": {"type": "rect", "cornerRadius": 10, "fill": "#8a8a8a", "opacity": 0.3, "xOffset": 3, "x2Offset": 3, "yOffset": 3, "y2Offset": 3},
  "encoding": {"x": {"field": "x0", "type": "quantitative", "title": "bias voltage (V)"}, "x2": {"field": "x1"}, "y": {"field": "y0", "type": "quantitative", "title": "log(current (A))"}, "y2": {"field": "y1"}}
 },
 {
  "data": {"name": "notes"},
  "mark": {"type": "rect", "cornerRadius": 10, "fill": "#ebf5df"},
  "encoding": {"x": {"field": "x0", "type": "quantitative", "title": "bias voltage (V)"}, "x2": {"field": "x1"}, "y": {"field": "y0", "type": "quantitative", "title": "log(current (A))"}, "y2": {"field": "y1"}}
 },
 {
  "data": {"name": "notes"},
  "mark": {"type": "text", "font": "Lato", "fontSize": 44, "align": "center", "baseline": "alphabetic", "color": "#000"},
  "encoding": {"x": {"field": "xc", "type": "quantitative", "title": "bias voltage (V)"}, "y": {"field": "yb", "type": "quantitative", "title": "log(current (A))"}, "text": {"field": "label"}}
 }
]
}
